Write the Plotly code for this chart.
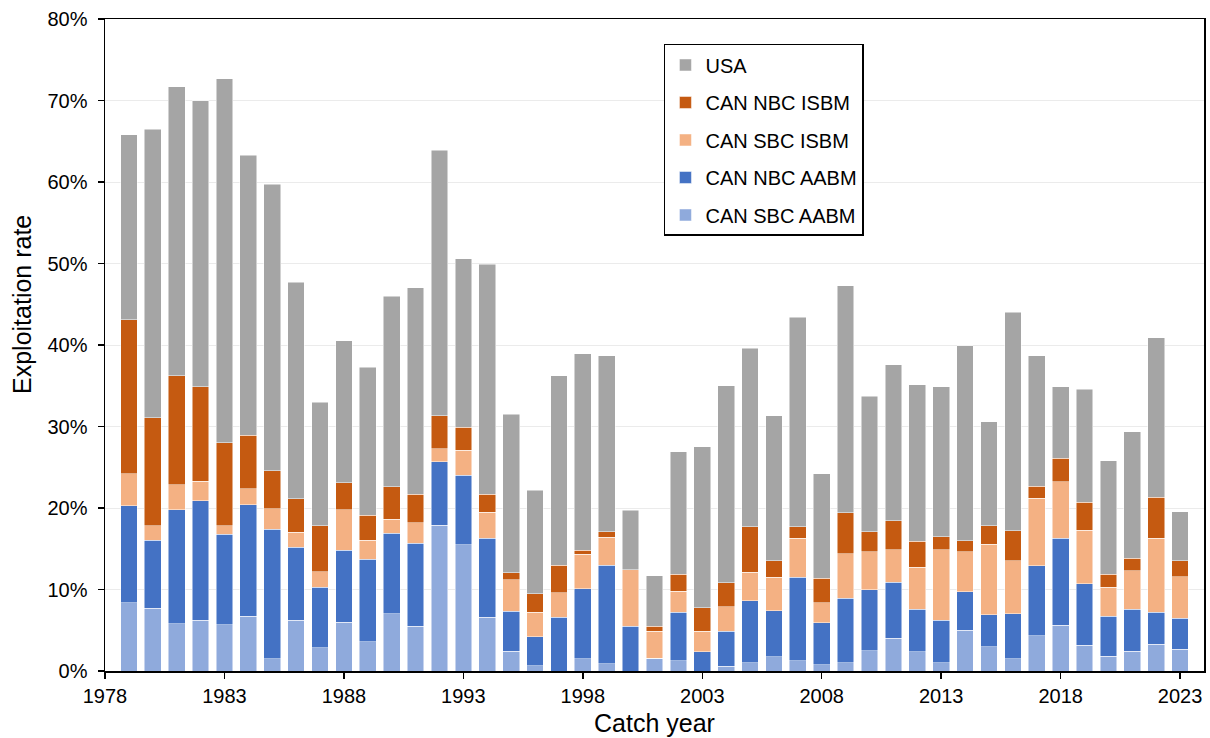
import plotly.graph_objects as go

years = list(range(1979, 2024))

# Exploitation rate components (%)
can_sbc_aabm = [8.4, 7.7, 5.8, 6.25, 5.7, 6.7, 1.5, 6.25, 2.85, 6.0,
                3.6, 7.0, 5.5, 17.9, 15.5, 6.6, 2.45, 0.65, 0.0, 1.5,
                0.9, 0.0, 1.55, 1.25, 0.0, 0.6, 1.0, 1.75, 1.25, 0.75,
                1.0, 2.5, 4.0, 2.35, 1.0, 5.0, 3.0, 1.5, 4.3, 5.6,
                3.15, 1.8, 2.4, 3.3, 2.65]
can_nbc_aabm = [11.9, 8.35, 14.0, 14.65, 11.1, 13.7, 15.9, 8.95, 7.4, 8.8,
                10.1, 9.9, 10.2, 7.8, 8.5, 9.7, 4.9, 3.55, 6.6, 8.6,
                12.1, 5.5, 0.0, 5.95, 2.35, 4.3, 7.65, 5.65, 10.25, 5.15,
                7.9, 7.5, 6.9, 5.25, 5.25, 4.7, 3.9, 5.5, 8.6, 10.7,
                7.55, 4.9, 5.15, 3.9, 3.8]
can_sbc_isbm = [3.9, 1.75, 3.05, 2.4, 1.0, 1.95, 2.5, 1.8, 1.95, 5.0,
                2.35, 1.7, 2.5, 1.6, 3.1, 3.15, 3.85, 3.0, 3.0, 4.25,
                3.4, 6.9, 3.35, 2.6, 2.55, 3.0, 3.45, 4.1, 4.8, 2.5,
                5.5, 4.65, 4.0, 5.15, 8.65, 4.95, 8.65, 6.55, 8.3, 6.9,
                6.6, 3.6, 4.75, 9.1, 5.1]
can_nbc_isbm = [18.9, 13.3, 13.35, 11.6, 10.2, 6.55, 4.7, 4.15, 5.6, 3.3,
                3.05, 4.0, 3.5, 4.0, 2.8, 2.25, 0.85, 2.3, 3.4, 0.45,
                0.7, 0.0, 0.6, 2.1, 2.85, 2.9, 5.6, 2.05, 1.4, 3.0,
                5.0, 2.45, 3.55, 3.2, 1.6, 1.35, 2.25, 3.65, 1.5, 2.9,
                3.4, 1.55, 1.55, 5.0, 2.0]
usa = [22.7, 35.4, 35.5, 35.1, 44.7, 34.4, 35.1, 26.55, 15.2, 17.4,
       18.2, 23.4, 25.3, 32.6, 20.7, 28.2, 19.45, 12.7, 23.2, 24.1,
       21.6, 7.3, 6.2, 15.0, 19.75, 24.2, 21.9, 17.8, 25.7, 12.8,
       27.9, 16.6, 19.15, 19.2, 18.4, 23.9, 12.8, 26.8, 16.0, 8.8,
       13.9, 13.95, 15.5, 19.6, 6.0]

series = [
    ("CAN SBC AABM", can_sbc_aabm, "#8FAADC", 5),
    ("CAN NBC AABM", can_nbc_aabm, "#4472C4", 4),
    ("CAN SBC ISBM", can_sbc_isbm, "#F4B183", 3),
    ("CAN NBC ISBM", can_nbc_isbm, "#C55A11", 2),
    ("USA", usa, "#A5A5A5", 1),
]

x_ticks = list(range(1978, 2024, 5))
y_ticks = list(range(0, 81, 10))

fig = go.Figure()
for name, vals, color, rank in series:
    fig.add_trace(go.Bar(
        x=years, y=vals, name=name, width=0.7,
        marker=dict(color=color, line=dict(color="rgba(255,255,255,0.7)", width=0.7)),
        legendgroup=name, legendrank=rank, hoverinfo="skip",
    ))

font_family = "Arial, Liberation Sans, sans-serif"
fig.update_layout(
    barmode="stack",
    width=1210, height=738,
    margin=dict(l=105, r=6, t=19, b=67, autoexpand=False),
    paper_bgcolor="white", plot_bgcolor="white",
    font=dict(family=font_family, size=20, color="black"),
    legend=dict(
        x=0.5086, y=0.9617, xanchor="left", yanchor="top",
        bordercolor="black", borderwidth=1.5, bgcolor="white",
        traceorder="grouped", tracegroupgap=8.5,
        font=dict(family=font_family, size=20, color="black"),
    ),
    xaxis=dict(
        range=[1978, 2024], tickmode="array", tickvals=x_ticks,
        ticktext=[str(t) for t in x_ticks],
        showline=True, linecolor="black", linewidth=1.5, mirror=True,
        ticks="outside", ticklen=6, tickcolor="black", tickwidth=1.5,
        showgrid=False, zeroline=False, automargin=False,
        tickfont=dict(size=20),
    ),
    yaxis=dict(
        range=[0, 80], tickmode="array", tickvals=y_ticks,
        ticktext=[f"{t}%" for t in y_ticks],
        showline=True, linecolor="black", linewidth=1.5, mirror=True,
        ticks="outside", ticklen=6, tickcolor="black", tickwidth=1.5,
        showgrid=True, gridcolor="#EBEBEB", gridwidth=1, zeroline=False,
        automargin=False, ticklabelstandoff=6,
        tickfont=dict(size=20),
    ),
    annotations=[
        dict(text="Exploitation rate", xref="paper", yref="paper",
             x=(22 - 105) / 1099, y=(671 - 305) / 652, textangle=-90,
             xanchor="center", yanchor="middle", showarrow=False,
             font=dict(size=25, family=font_family, color="black")),
        dict(text="Catch year", xref="paper", yref="paper",
             x=0.5, y=-(723 - 671) / 652,
             xanchor="center", yanchor="middle", showarrow=False,
             font=dict(size=25, family=font_family, color="black")),
    ],
)

fig.write_html("out.html",
               config={"displayModeBar": False, "staticPlot": True},
               post_script="document.body.style.margin='0';document.body.style.padding='0';")
